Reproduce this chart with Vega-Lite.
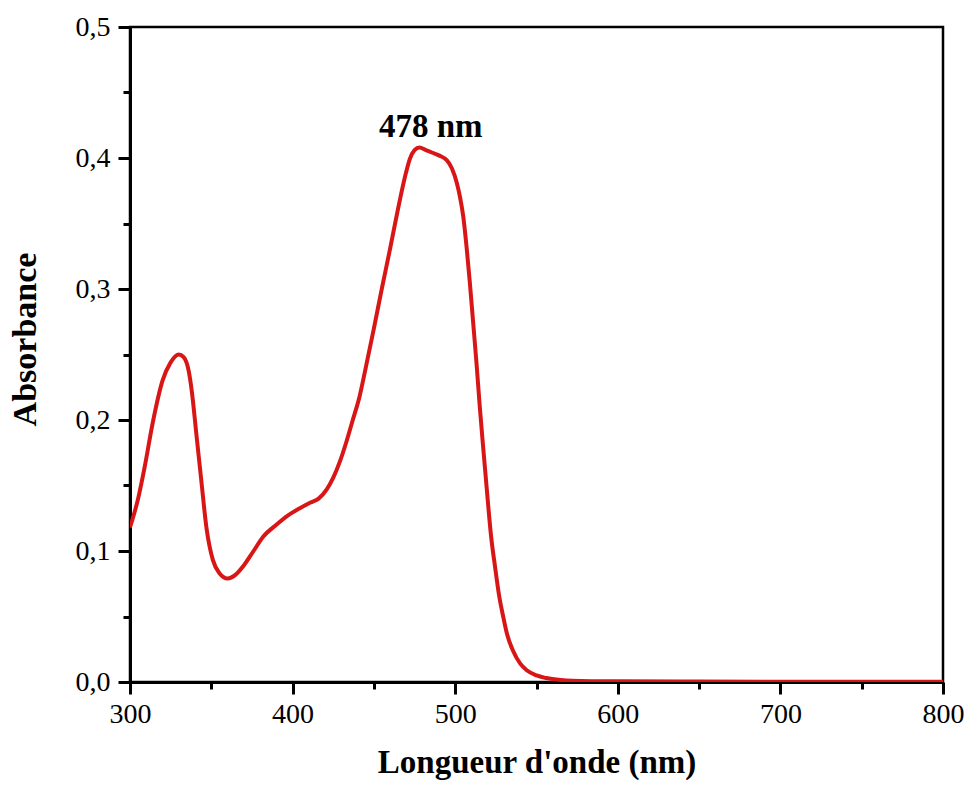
{
  "$schema": "https://vega.github.io/schema/vega-lite/v6.json",
  "width": 813,
  "height": 655,
  "autosize": "none",
  "padding": {"left": 130, "top": 27, "right": 25, "bottom": 103},
  "background": "white",
  "config": {
    "view": {"stroke": "black", "strokeWidth": 2.5},
    "font": "Liberation Serif"
  },
  "datasets": {
    "spectrum": [
      {"wl": 300, "abs": 0.118}, {"wl": 305, "abs": 0.140}, {"wl": 309, "abs": 0.164}, {"wl": 314, "abs": 0.198},
      {"wl": 320, "abs": 0.230}, {"wl": 325, "abs": 0.244}, {"wl": 330, "abs": 0.250}, {"wl": 333, "abs": 0.248},
      {"wl": 336, "abs": 0.238}, {"wl": 338, "abs": 0.222}, {"wl": 341, "abs": 0.187}, {"wl": 344, "abs": 0.152},
      {"wl": 347, "abs": 0.118}, {"wl": 351, "abs": 0.093}, {"wl": 355, "abs": 0.083}, {"wl": 360, "abs": 0.079},
      {"wl": 365, "abs": 0.082}, {"wl": 370, "abs": 0.089}, {"wl": 376, "abs": 0.100}, {"wl": 382, "abs": 0.111},
      {"wl": 390, "abs": 0.120}, {"wl": 397, "abs": 0.127}, {"wl": 405, "abs": 0.133}, {"wl": 411, "abs": 0.137},
      {"wl": 416, "abs": 0.140}, {"wl": 421, "abs": 0.147}, {"wl": 425, "abs": 0.156}, {"wl": 429, "abs": 0.168},
      {"wl": 433, "abs": 0.183}, {"wl": 437, "abs": 0.200}, {"wl": 441, "abs": 0.217}, {"wl": 445, "abs": 0.240},
      {"wl": 450, "abs": 0.270}, {"wl": 455, "abs": 0.301}, {"wl": 460, "abs": 0.331}, {"wl": 464, "abs": 0.356},
      {"wl": 467, "abs": 0.374}, {"wl": 470, "abs": 0.390}, {"wl": 472, "abs": 0.399}, {"wl": 475, "abs": 0.406},
      {"wl": 478, "abs": 0.408}, {"wl": 482, "abs": 0.406}, {"wl": 486, "abs": 0.404}, {"wl": 490, "abs": 0.402},
      {"wl": 495, "abs": 0.398}, {"wl": 498, "abs": 0.392}, {"wl": 501, "abs": 0.381}, {"wl": 503, "abs": 0.370},
      {"wl": 505, "abs": 0.355}, {"wl": 507, "abs": 0.332}, {"wl": 509, "abs": 0.305}, {"wl": 511, "abs": 0.275},
      {"wl": 513, "abs": 0.245}, {"wl": 515, "abs": 0.212}, {"wl": 517, "abs": 0.182}, {"wl": 520, "abs": 0.139},
      {"wl": 522, "abs": 0.112}, {"wl": 524.5, "abs": 0.088}, {"wl": 527, "abs": 0.066}, {"wl": 529.5, "abs": 0.050},
      {"wl": 532, "abs": 0.036}, {"wl": 535.5, "abs": 0.024}, {"wl": 540, "abs": 0.014}, {"wl": 544, "abs": 0.009},
      {"wl": 550, "abs": 0.005}, {"wl": 556, "abs": 0.003}, {"wl": 565, "abs": 0.0015}, {"wl": 572, "abs": 0.001},
      {"wl": 600, "abs": 0.0005}, {"wl": 650, "abs": 0.0003}, {"wl": 700, "abs": 0.0002}, {"wl": 750, "abs": 0.0002},
      {"wl": 800, "abs": 0.0002}
    ],
    "annot": [{"wl": 485, "abs": 0.416, "label": "478 nm"}]
  },
  "resolve": {"axis": {"x": "independent", "y": "independent"}},
  "layer": [
    {
      "data": {"name": "spectrum"},
      "mark": {"type": "line", "color": "#d91616", "strokeWidth": 4, "interpolate": "monotone", "clip": true},
      "encoding": {
        "x": {
          "field": "wl", "type": "quantitative",
          "scale": {"domain": [300, 800], "nice": false, "zero": false},
          "axis": {
            "orient": "bottom",
            "title": "Longueur d'onde (nm)",
            "values": [300, 400, 500, 600, 700, 800],
            "format": "d",
            "grid": false,
            "domainColor": "black", "domainWidth": 3,
            "tickColor": "black", "tickWidth": 3, "tickSize": 12,
            "labelFont": "Liberation Serif", "labelFontSize": 28, "labelColor": "black", "labelPadding": 6,
            "labelFlush": false, "labelOverlap": false,
            "titleFont": "Liberation Serif", "titleFontSize": 33, "titleFontWeight": "bold", "titleColor": "black",
            "titlePadding": 18
          }
        },
        "y": {
          "field": "abs", "type": "quantitative",
          "scale": {"domain": [0, 0.5], "nice": false},
          "axis": {
            "orient": "left",
            "title": "Absorbance",
            "values": [0, 0.1, 0.2, 0.3, 0.4, 0.5],
            "labelExpr": "replace(format(datum.value, '.1f'), '.', ',')",
            "grid": false,
            "domainColor": "black", "domainWidth": 3,
            "tickColor": "black", "tickWidth": 3, "tickSize": 12,
            "labelFont": "Liberation Serif", "labelFontSize": 28, "labelColor": "black", "labelPadding": 8,
            "labelFlush": false, "labelOverlap": false,
            "titleFont": "Liberation Serif", "titleFontSize": 34, "titleFontWeight": "bold", "titleColor": "black",
            "titlePadding": 33, "titleY": 312
          }
        }
      }
    },
    {
      "data": {"name": "annot"},
      "mark": {"type": "text", "font": "Liberation Serif", "fontSize": 33, "fontWeight": "bold", "color": "black", "baseline": "alphabetic", "align": "center"},
      "encoding": {
        "x": {
          "field": "wl", "type": "quantitative",
          "axis": {
            "orient": "bottom",
            "title": null,
            "values": [350, 450, 550, 650, 750],
            "labels": false, "domain": false, "grid": false,
            "tickColor": "black", "tickWidth": 3, "tickSize": 7
          }
        },
        "y": {
          "field": "abs", "type": "quantitative",
          "axis": {
            "orient": "left",
            "title": null,
            "values": [0.05, 0.15, 0.25, 0.35, 0.45],
            "labels": false, "domain": false, "grid": false,
            "tickColor": "black", "tickWidth": 3, "tickSize": 7
          }
        },
        "text": {"field": "label"}
      }
    }
  ]
}
